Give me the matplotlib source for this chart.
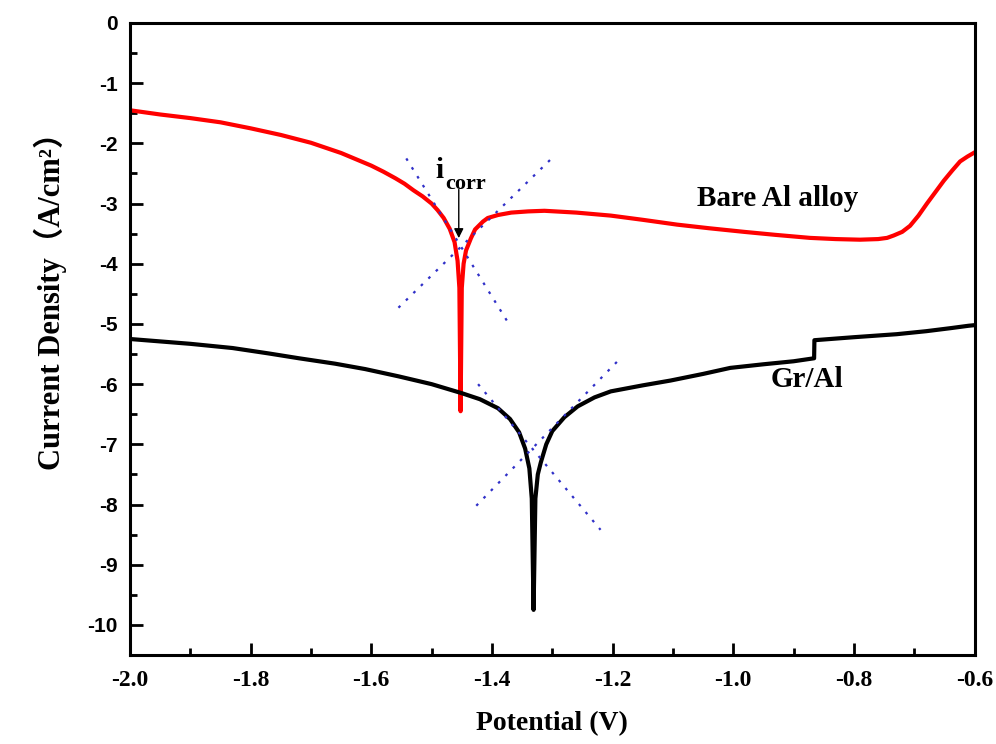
import numpy as np
import matplotlib.pyplot as plt
from matplotlib.ticker import MultipleLocator

# Bare Al alloy polarization curve (red)
bare_E = [-2.0, -1.95, -1.9, -1.85, -1.8, -1.75, -1.7, -1.65, -1.6, -1.58, -1.56,
          -1.545, -1.53, -1.515, -1.50, -1.49, -1.48, -1.47, -1.462, -1.457, -1.454,
          -1.452, -1.450, -1.447, -1.443, -1.435, -1.428, -1.415, -1.407, -1.39,
          -1.368, -1.34, -1.313, -1.26, -1.203, -1.15, -1.093, -1.04, -0.982, -0.93,
          -0.873, -0.83, -0.79, -0.76, -0.745, -0.734, -0.72, -0.707, -0.693,
          -0.679, -0.665, -0.651, -0.637, -0.624, -0.612, -0.6]
bare_logi = [-1.45, -1.52, -1.58, -1.65, -1.75, -1.86, -1.99, -2.16, -2.37, -2.47, -2.58,
             -2.67, -2.78, -2.88, -3.0, -3.11, -3.24, -3.42, -3.64, -3.95, -4.4,
             -6.45, -4.4, -4.0, -3.78, -3.58, -3.43, -3.3, -3.24, -3.19,
             -3.15, -3.13, -3.12, -3.15, -3.2, -3.27, -3.35, -3.41, -3.47, -3.52,
             -3.57, -3.59, -3.6, -3.59, -3.57, -3.53, -3.47, -3.37, -3.2,
             -3.0, -2.81, -2.62, -2.45, -2.3, -2.22, -2.15]

# Gr/Al polarization curve (black)
gr_E = [-2.0, -1.95, -1.9, -1.83, -1.77, -1.72, -1.66, -1.61, -1.555, -1.50,
        -1.45, -1.42, -1.39, -1.37, -1.355, -1.345, -1.338, -1.334, -1.331,
        -1.328, -1.324, -1.319, -1.31, -1.30, -1.28, -1.258, -1.23, -1.203,
        -1.15, -1.104, -1.05, -1.005, -0.95, -0.9, -0.866, -0.8655, -0.8,
        -0.729, -0.68, -0.64, -0.61, -0.6]
gr_logi = [-5.25, -5.29, -5.33, -5.40, -5.49, -5.57, -5.66, -5.75, -5.87, -6.0,
           -6.15, -6.25, -6.4, -6.58, -6.8, -7.07, -7.4, -7.9, -9.75,
           -7.9, -7.5, -7.3, -7.0, -6.78, -6.55, -6.37, -6.22, -6.12,
           -6.02, -5.94, -5.83, -5.73, -5.67, -5.62, -5.57, -5.27, -5.22,
           -5.17, -5.12, -5.07, -5.03, -5.02]

# Tafel extrapolation lines (endpoints)
bare_cath_E, bare_cath_i = [-1.542, -1.370], [-2.25, -5.03]
bare_anod_E, bare_anod_i = [-1.555, -1.299], [-4.73, -2.23]
gr_cath_E, gr_cath_i = [-1.423, -1.22], [-6.0, -8.42]
gr_anod_E, gr_anod_i = [-1.426, -1.188], [-8.02, -5.58]

fig = plt.figure(figsize=(9.96, 7.44), dpi=100)
ax = fig.add_axes([0.1305, 0.1196, 0.848, 0.8495])

ax.plot(bare_E, bare_logi, color='#ff0000', lw=3, solid_joinstyle='round')
ax.plot(gr_E, gr_logi, color='black', lw=3, solid_joinstyle='round')

tafel_style = dict(color='#3030c8', lw=1.6, linestyle=(0, (1.2, 3.5)))
ax.plot(bare_cath_E, bare_cath_i, **tafel_style)
ax.plot(bare_anod_E, bare_anod_i, **tafel_style)
ax.plot(gr_cath_E, gr_cath_i, **tafel_style)
ax.plot(gr_anod_E, gr_anod_i, **tafel_style)

# i_corr annotation
serif = 'Liberation Serif'
ax.annotate('', xy=(-1.455, -3.62), xytext=(-1.455, -2.72),
            arrowprops=dict(arrowstyle='-|>', color='black', lw=1, mutation_scale=14))
ax.text(-1.487, -2.57, 'i', family=serif, fontweight='bold', fontsize=21,
        ha='center', va='baseline')
ax.text(-1.444, -2.75, 'corr', family=serif, fontweight='bold', fontsize=16,
        ha='center', va='baseline')

ax.text(-0.927, -2.92, 'Bare Al alloy', family=serif, fontweight='bold',
        fontsize=21, ha='center', va='center')
ax.text(-0.878, -5.93, 'Gr/Al', family=serif, fontweight='bold',
        fontsize=21, ha='center', va='center')

ax.set_xlim(-2.0, -0.6)
ax.set_ylim(-10.5, 0)
ax.xaxis.set_major_locator(MultipleLocator(0.2))
ax.xaxis.set_minor_locator(MultipleLocator(0.1))
ax.yaxis.set_major_locator(MultipleLocator(1))
ax.yaxis.set_minor_locator(MultipleLocator(0.5))
ax.xaxis.set_major_formatter(plt.FuncFormatter(lambda v, p: f'{v:.1f}'))
ax.yaxis.set_major_formatter(plt.FuncFormatter(lambda v, p: f'{v:.0f}'))

ax.tick_params(which='both', direction='in', top=False, right=False, width=2)
ax.tick_params(which='major', length=9)
ax.tick_params(which='minor', length=5)
ax.tick_params(axis='x', pad=11)
ax.tick_params(axis='y', pad=9)
for lab in ax.get_xticklabels():
    lab.set_family(serif)
    lab.set_fontweight('bold')
    lab.set_fontsize(17)
for lab in ax.get_yticklabels():
    lab.set_family('Liberation Sans')
    lab.set_fontweight('bold')
    lab.set_fontsize(15)

for sp in ax.spines.values():
    sp.set_linewidth(2.2)

ax.set_xlabel('Potential (V)', family=serif, fontweight='bold', fontsize=20, labelpad=14)
ax.set_ylabel('Current Density\uff08A/cm\u00b2\uff09', family=[serif, 'Noto Sans CJK SC'],
              fontweight='bold', fontsize=22)
ax.yaxis.set_label_coords(-0.075, 0.572)

fig.savefig('out.png', dpi=100)
